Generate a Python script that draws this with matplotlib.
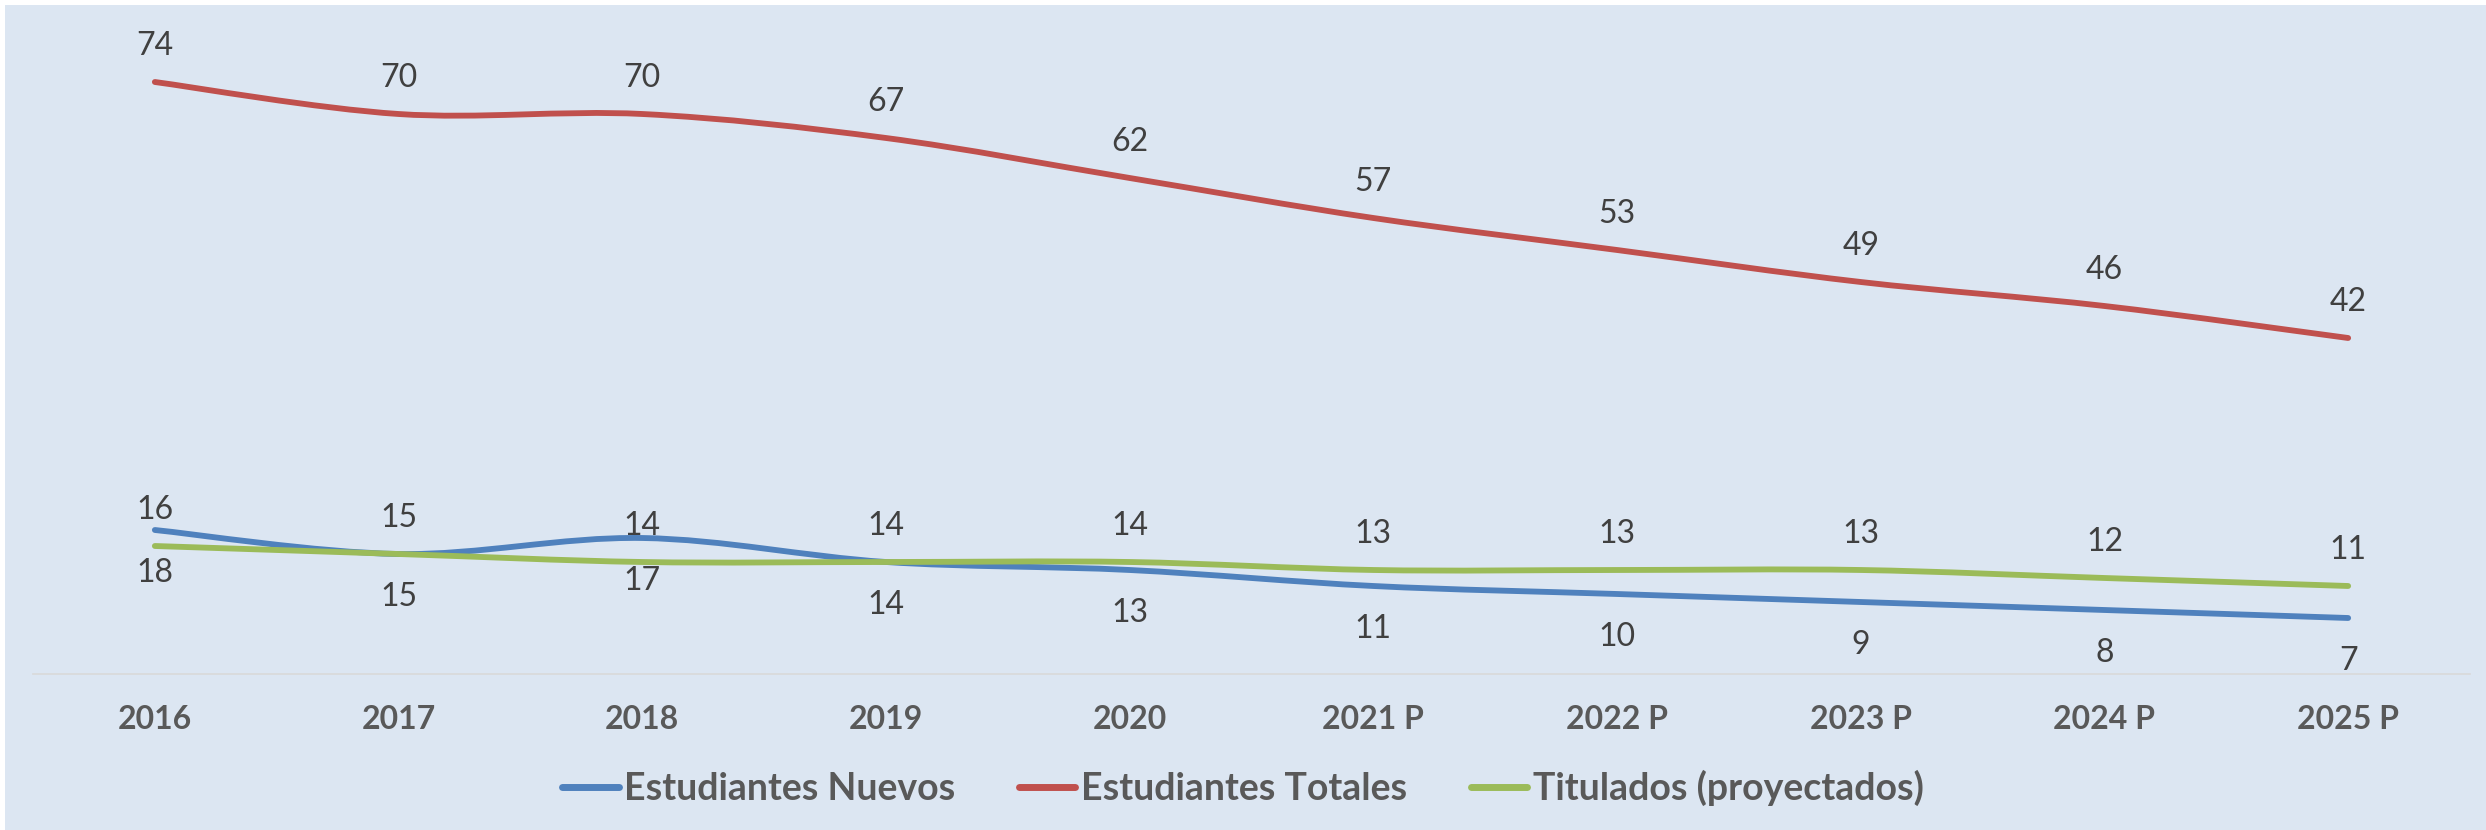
import matplotlib
matplotlib.use("Agg")
import matplotlib.pyplot as plt
from matplotlib.lines import Line2D
from matplotlib.patches import PathPatch, Rectangle
from matplotlib.path import Path

plt.rcParams["font.family"] = ["Lato", "DejaVu Sans"]

years = ["2016", "2017", "2018", "2019", "2020",
         "2021 P", "2022 P", "2023 P", "2024 P", "2025 P"]
nuevos = [18, 15, 17, 14, 13, 11, 10, 9, 8, 7]
totales = [74, 70, 70, 67, 62, 57, 53, 49, 46, 42]
titulados = [16, 15, 14, 14, 14, 13, 13, 13, 12, 11]

BG = "#DCE6F2"
BLUE = "#4F81BD"
RED = "#C0504D"
GREEN = "#9BBB59"


def smooth_path(xs, ys, t=1 / 6):
    # bezier control points like the smoothed lines of a spreadsheet chart
    verts = [(xs[0], ys[0])]
    codes = [Path.MOVETO]
    n = len(xs)
    for i in range(n - 1):
        p0 = max(i - 1, 0)
        p3 = min(i + 2, n - 1)
        c1 = (xs[i] + (xs[i + 1] - xs[p0]) * t, ys[i] + (ys[i + 1] - ys[p0]) * t)
        c2 = (xs[i + 1] - (xs[p3] - xs[i]) * t, ys[i + 1] - (ys[p3] - ys[i]) * t)
        verts += [c1, c2, (xs[i + 1], ys[i + 1])]
        codes += [Path.CURVE4] * 3
    return Path(verts, codes)


W, H = 2486, 830
fig = plt.figure(figsize=(W / 100, H / 100), dpi=100)
fig.patches.append(Rectangle((5 / W, 0), 1, 1 - 5 / H, transform=fig.transFigure,
                             facecolor=BG, edgecolor="none", zorder=-10))

ax = fig.add_axes([33 / W, 1 - 674 / H, (2470 - 33) / W, 640 / H])
ax.set_facecolor("none")
x = list(range(len(years)))

series = [
    ("Estudiantes Nuevos", nuevos, BLUE, -31),
    ("Estudiantes Totales", totales, RED, 26),
    ("Titulados (proyectados)", titulados, GREEN, 26),
]
handles = []
for name, vals, color, off in series:
    ax.add_patch(PathPatch(smooth_path(x, vals), facecolor="none", edgecolor=color,
                           lw=4.2, capstyle="round", joinstyle="round"))
    for xi, v in zip(x, vals):
        ax.annotate(f"{v:.0f}", (xi, v), xytext=(0, off), textcoords="offset points",
                    ha="center", va="center", fontsize=23, color="#404040")
    handles.append(Line2D([], [], color=color, lw=5, solid_capstyle="round", label=name))

ax.set_xlim(-0.5, len(years) - 0.5)
ax.set_ylim(0, 80)
ax.set_xticks(x)
ax.set_xticklabels(years, fontsize=23, fontweight="bold", color="#595959")
ax.tick_params(axis="x", length=0, pad=22)
ax.set_yticks([])
for s in ["top", "right", "left"]:
    ax.spines[s].set_visible(False)
ax.spines["bottom"].set_color("#D9D9D9")
ax.spines["bottom"].set_linewidth(1.2)

leg = fig.legend(handles=handles, loc="center", bbox_to_anchor=(0.5, 1 - 788 / H), ncol=3,
                 frameon=False, handlelength=1.5, handletextpad=0.15,
                 columnspacing=1.7, prop={"weight": "bold", "size": 27})
for t in leg.get_texts():
    t.set_color("#595959")

fig.savefig("out.png", dpi=100, facecolor="white")
